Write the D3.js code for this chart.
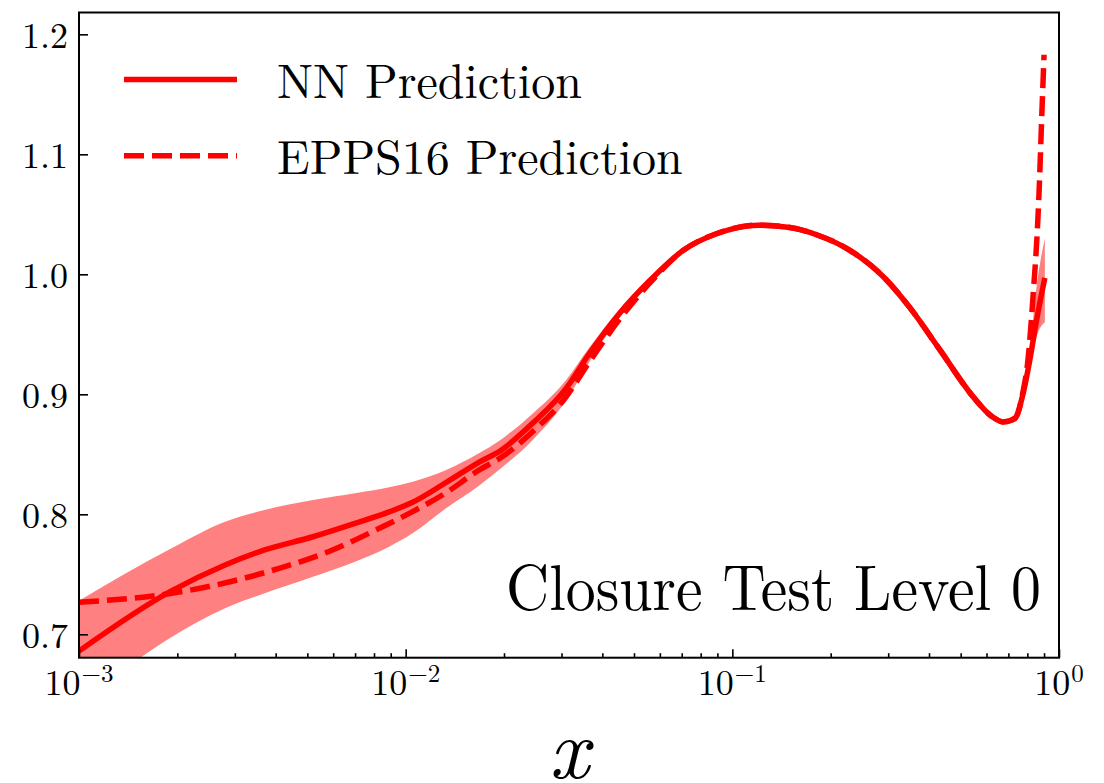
<!DOCTYPE html>
<html>
<head>
<meta charset="utf-8">
<script src="https://cdn.jsdelivr.net/npm/d3@7"></script>
<style>
  html, body { margin: 0; padding: 0; background: #fff; }
  svg { display: block; }
</style>
</head>
<body>
<svg id="chart" width="1104" height="783"></svg>
<script>
// ---------------- data ----------------
const nnX     = [0.001, 0.0019, 0.0028, 0.0037, 0.0052, 0.0070, 0.0089, 0.0105, 0.0133, 0.0168, 0.0195, 0.0245, 0.031, 0.0365, 0.045, 0.056, 0.0708, 0.0898, 0.12, 0.15, 0.181, 0.229, 0.29, 0.35, 0.432, 0.546, 0.62, 0.675, 0.733, 0.777, 0.814, 0.854, 0.905];
const nnMid   = [0.686, 0.7355, 0.7578, 0.7703, 0.7813, 0.7925, 0.802, 0.810, 0.8265, 0.8435, 0.853, 0.876, 0.905, 0.934, 0.967, 0.995, 1.020, 1.034, 1.041, 1.039, 1.033, 1.020, 0.998, 0.972, 0.937, 0.898, 0.882, 0.877, 0.880, 0.901, 0.9286, 0.962, 0.997];
const nnLow   = [0.641, 0.697, 0.7217, 0.7342, 0.748, 0.7605, 0.773, 0.7842, 0.8050, 0.8240, 0.838, 0.862, 0.895, 0.927, 0.9635, 0.993, 1.0185, 1.0325, 1.0395, 1.0375, 1.0315, 1.0185, 0.9965, 0.9705, 0.9355, 0.8965, 0.8805, 0.8755, 0.878, 0.897, 0.921, 0.948, 0.960];
const nnHigh  = [0.728, 0.771, 0.7938, 0.8036, 0.8119, 0.8175, 0.8225, 0.8272, 0.8369, 0.8510, 0.862, 0.884, 0.912, 0.939, 0.9705, 0.997, 1.0215, 1.0355, 1.0425, 1.0405, 1.0345, 1.0215, 0.9995, 0.9735, 0.9385, 0.8995, 0.8835, 0.8785, 0.882, 0.905, 0.937, 0.990, 1.030];

const eppsX   = [0.001, 0.0019, 0.0029, 0.0041, 0.0058, 0.0083, 0.0105, 0.0133, 0.0168, 0.0195, 0.0245, 0.031, 0.0365, 0.045, 0.056, 0.0708, 0.0898, 0.12, 0.15, 0.181, 0.229, 0.29, 0.35, 0.432, 0.546, 0.62, 0.675, 0.733, 0.777, 0.803, 0.83, 0.867, 0.887, 0.90];
const eppsY   = [0.7267, 0.734, 0.7438, 0.755, 0.7688, 0.7883, 0.8022, 0.8180, 0.8370, 0.847, 0.869, 0.898, 0.927, 0.962, 0.993, 1.020, 1.034, 1.041, 1.039, 1.033, 1.020, 0.998, 0.972, 0.937, 0.898, 0.882, 0.877, 0.880, 0.903, 0.928, 0.976, 1.062, 1.137, 1.183];

const xMajorTicks = [0.001, 0.01, 0.1, 1];
const xMajorExp   = ["\u22123", "\u22122", "\u22121", "0"];
const yTicks      = [0.7, 0.8, 0.9, 1.0, 1.1, 1.2];
const legendLabels = ["NN Prediction", "EPPS16 Prediction"];
const annotation  = "Closure Test Level 0";
const xTitle      = "x";

// ---------------- layout ----------------
const FONT = "'Latin Modern Roman', 'Liberation Serif', serif";
const L = 79, R = 1059, T = 12.5, B = 657.7;
const red = "#ff0000", band = "#ff8080";
const lw = 5.5, dash = "20,8";

const svg = d3.select("#chart");
const x = d3.scaleLog().domain([0.001, 1]).range([L, R]);
const y = d3.scaleLinear().domain([0.6805, 1.2182]).range([B, T]);

svg.append("defs").append("clipPath").attr("id", "clip")
  .append("rect").attr("x", L).attr("y", T).attr("width", R - L).attr("height", B - T);

const plot = svg.append("g").attr("clip-path", "url(#clip)");

const nnData = nnX.map((d, i) => ({x: d, m: nnMid[i], lo: nnLow[i], hi: nnHigh[i]}));
const eppsData = eppsX.map((d, i) => ({x: d, y: eppsY[i]}));

plot.append("path")
  .datum(nnData)
  .attr("fill", band)
  .attr("stroke", "none")
  .attr("d", d3.area().curve(d3.curveMonotoneX)
    .x(d => x(d.x)).y0(d => y(d.lo)).y1(d => y(d.hi)));

plot.append("path")
  .datum(eppsData)
  .attr("fill", "none")
  .attr("stroke", red)
  .attr("stroke-width", lw)
  .attr("stroke-dasharray", dash)
  .attr("d", d3.line().curve(d3.curveMonotoneX).x(d => x(d.x)).y(d => y(d.y)));

plot.append("path")
  .datum(nnData)
  .attr("fill", "none")
  .attr("stroke", red)
  .attr("stroke-width", lw)
  .attr("stroke-linejoin", "round")
  .attr("d", d3.line().curve(d3.curveMonotoneX).x(d => x(d.x)).y(d => y(d.m)));

// ---------------- axes ----------------
const minor = [];
for (let e = -3; e < 0; e++) for (let k = 2; k <= 9; k++) minor.push(k * Math.pow(10, e));

const gxMinor = svg.append("g").attr("transform", `translate(0,${B})`)
  .call(d3.axisBottom(x).tickValues(minor).tickSize(-4.5).tickFormat(""));
const gxMajor = svg.append("g").attr("transform", `translate(0,${B})`)
  .call(d3.axisBottom(x).tickValues(xMajorTicks).tickSize(-8.5).tickFormat(""));
[gxMinor, gxMajor].forEach(g => {
  g.select(".domain").remove();
  g.selectAll(".tick line").attr("stroke", "#000").attr("stroke-width", 1.6);
});

const gy = svg.append("g").attr("transform", `translate(${L},0)`)
  .call(d3.axisLeft(y).tickValues(yTicks).tickSize(-9).tickPadding(11).tickFormat(d3.format(".1f")));
gy.select(".domain").remove();
gy.selectAll(".tick line").attr("stroke", "#000").attr("stroke-width", 1.6);
gy.selectAll(".tick text")
  .style("font-family", FONT)
  .style("font-size", "36px")
  .attr("dy", "0.375em")
  .attr("fill", "#000");

// x tick labels with superscripts
xMajorTicks.forEach((v, i) => {
  const t = svg.append("text")
    .attr("x", x(v)).attr("y", B + 37.5)
    .attr("text-anchor", "middle")
    .style("font-family", FONT)
    .style("font-size", "36px")
    .attr("fill", "#000");
  t.append("tspan").text("10");
  t.append("tspan").style("font-size", "25px").attr("dx", 1).attr("dy", -13.5).text(xMajorExp[i]);
});

// frame
svg.append("rect")
  .attr("x", L).attr("y", T).attr("width", R - L).attr("height", B - T)
  .attr("fill", "none").attr("stroke", "#000").attr("stroke-width", 2);

// ---------------- legend ----------------
const leg = [{y: 79.5, dashArr: null}, {y: 155.7, dashArr: dash}];
leg.forEach((d, i) => {
  svg.append("line")
    .attr("x1", 124).attr("x2", 237).attr("y1", d.y).attr("y2", d.y)
    .attr("stroke", red).attr("stroke-width", lw)
    .attr("stroke-dasharray", d.dashArr);
  svg.append("text")
    .attr("x", 277).attr("y", d.y + 18)
    .style("font-family", FONT)
    .style("font-size", "48px")
    .attr("fill", "#000")
    .text(legendLabels[i]);
});

// annotation
svg.append("text")
  .attr("x", 1041).attr("y", 610)
  .attr("text-anchor", "end")
  .style("font-family", FONT)
  .style("font-size", "65px")
  .attr("textLength", 535)
  .attr("lengthAdjust", "spacingAndGlyphs")
  .attr("fill", "#000")
  .text(annotation);

// axis title
svg.append("text")
  .attr("x", (L + R) / 2).attr("y", 778)
  .attr("text-anchor", "middle")
  .style("font-family", FONT)
  .style("font-style", "italic")
  .style("font-size", "86px")
  .attr("fill", "#000")
  .text(xTitle);
</script>
</body>
</html>
